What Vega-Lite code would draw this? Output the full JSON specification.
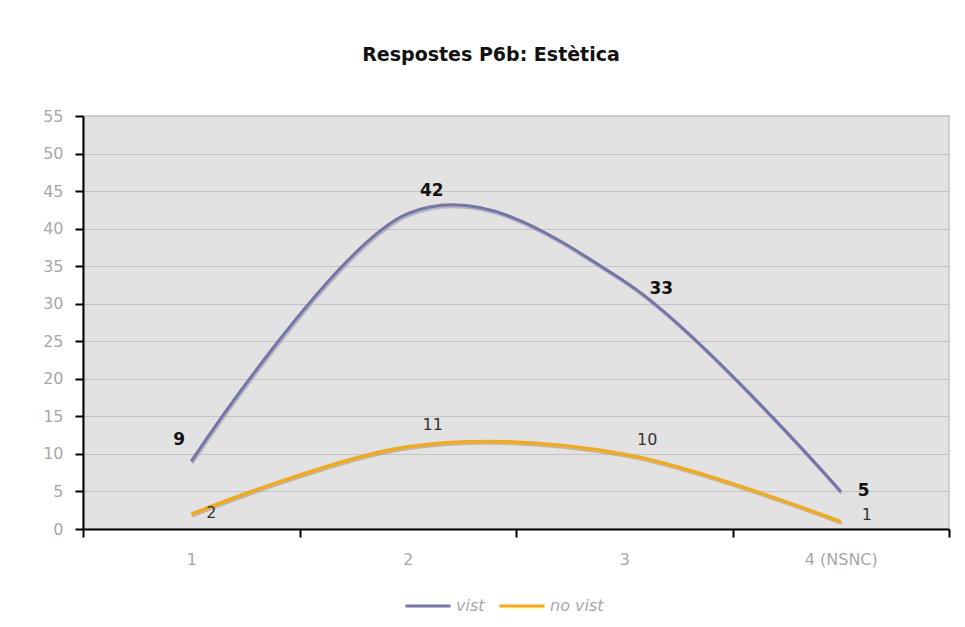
{
  "$schema": "https://vega.github.io/schema/vega-lite/v6.json",
  "width": 866,
  "height": 413,
  "autosize": "none",
  "padding": {"left": 83, "top": 116, "right": 16, "bottom": 98},
  "background": "white",
  "title": {
    "text": "Respostes P6b: Estètica",
    "font": "DejaVu Sans",
    "fontSize": 19,
    "fontWeight": "bold",
    "color": "#111111",
    "anchor": "middle",
    "dx": -25,
    "offset": 43
  },
  "data": {
    "values": [
      {"serie": "vist", "cat": "1", "valor": 9},
      {"serie": "vist", "cat": "2", "valor": 42},
      {"serie": "vist", "cat": "3", "valor": 33},
      {"serie": "vist", "cat": "4 (NSNC)", "valor": 5},
      {"serie": "no vist", "cat": "1", "valor": 2},
      {"serie": "no vist", "cat": "2", "valor": 11},
      {"serie": "no vist", "cat": "3", "valor": 10},
      {"serie": "no vist", "cat": "4 (NSNC)", "valor": 1}
    ]
  },
  "encoding": {
    "x": {
      "field": "cat",
      "type": "ordinal",
      "bandPosition": 0.5,
      "scale": {"type": "band", "domain": ["1", "2", "3", "4 (NSNC)"], "paddingInner": 0, "paddingOuter": 0},
      "axis": {
        "title": null,
        "tickBand": "extent",
        "labelAngle": 0,
        "labelPadding": 14,
        "tickSize": 8,
        "tickColor": "#000000",
        "domainColor": "#000000",
        "domainWidth": 2,
        "tickWidth": 2,
        "labelColor": "#a8a8a8",
        "labelFont": "DejaVu Sans",
        "labelFontSize": 16,
        "grid": false
      }
    },
    "y": {
      "field": "valor",
      "type": "quantitative",
      "scale": {"domain": [0, 55], "nice": false},
      "axis": {
        "title": null,
        "values": [0, 5, 10, 15, 20, 25, 30, 35, 40, 45, 50, 55],
        "tickSize": 8,
        "tickColor": "#000000",
        "tickWidth": 2,
        "domainColor": "#000000",
        "domainWidth": 2,
        "labelPadding": 12,
        "labelColor": "#a8a8a8",
        "labelFont": "DejaVu Sans",
        "labelFontSize": 16,
        "grid": true,
        "gridColor": "#c4c4c4",
        "gridWidth": 1
      }
    }
  },
  "layer": [
    {
      "transform": [{"filter": "datum.serie == 'vist'"}],
      "mark": {"type": "line", "interpolate": "cardinal", "strokeWidth": 3, "color": "#9a9a9a", "opacity": 0.6, "xOffset": 1, "yOffset": 2},
      "encoding": {"detail": {"field": "serie"}}
    },
    {
      "transform": [{"filter": "datum.serie == 'vist'"}],
      "mark": {"type": "line", "interpolate": "cardinal", "strokeWidth": 3},
      "encoding": {
        "color": {
          "field": "serie",
          "type": "nominal",
          "scale": {"domain": ["vist", "no vist"], "range": ["#7474ab", "#ffa800"]},
          "legend": {
            "title": null,
            "orient": "none",
            "direction": "horizontal",
            "legendX": 321,
            "legendY": 466,
            "symbolType": "stroke",
            "symbolSize": 2025,
            "symbolStrokeWidth": 3,
            "labelFont": "DejaVu Sans",
            "labelFontSize": 16,
            "labelFontStyle": "italic",
            "labelColor": "#a8a8a8",
            "labelOffset": 4,
            "columnPadding": 8
          }
        }
      }
    },
    {
      "transform": [{"filter": "datum.serie == 'no vist'"}],
      "mark": {"type": "line", "interpolate": "cardinal", "strokeWidth": 3, "color": "#9a9a9a", "opacity": 0.6, "xOffset": 1, "yOffset": 2},
      "encoding": {"detail": {"field": "serie"}}
    },
    {
      "transform": [{"filter": "datum.serie == 'no vist'"}],
      "mark": {"type": "line", "interpolate": "cardinal", "strokeWidth": 3},
      "encoding": {"color": {"field": "serie", "type": "nominal"}}
    },
    {
      "transform": [{"filter": "datum.serie == 'vist' && datum.cat == '1'"}],
      "mark": {"type": "text", "font": "DejaVu Sans", "fontSize": 17, "fontWeight": "bold", "color": "#111111", "dx": -12, "dy": -21},
      "encoding": {"text": {"field": "valor"}}
    },
    {
      "transform": [{"filter": "datum.serie == 'vist' && datum.cat == '2'"}],
      "mark": {"type": "text", "font": "DejaVu Sans", "fontSize": 17, "fontWeight": "bold", "color": "#111111", "dx": 24, "dy": -23},
      "encoding": {"text": {"field": "valor"}}
    },
    {
      "transform": [{"filter": "datum.serie == 'vist' && datum.cat == '3'"}],
      "mark": {"type": "text", "font": "DejaVu Sans", "fontSize": 17, "fontWeight": "bold", "color": "#111111", "dx": 37, "dy": 8},
      "encoding": {"text": {"field": "valor"}}
    },
    {
      "transform": [{"filter": "datum.serie == 'vist' && datum.cat == '4 (NSNC)'"}],
      "mark": {"type": "text", "font": "DejaVu Sans", "fontSize": 17, "fontWeight": "bold", "color": "#111111", "dx": 23, "dy": 0},
      "encoding": {"text": {"field": "valor"}}
    },
    {
      "transform": [{"filter": "datum.serie == 'no vist' && datum.cat == '1'"}],
      "mark": {"type": "text", "font": "DejaVu Sans", "fontSize": 16, "color": "#333333", "dx": 20, "dy": -1},
      "encoding": {"text": {"field": "valor"}}
    },
    {
      "transform": [{"filter": "datum.serie == 'no vist' && datum.cat == '2'"}],
      "mark": {"type": "text", "font": "DejaVu Sans", "fontSize": 16, "color": "#333333", "dx": 25, "dy": -21},
      "encoding": {"text": {"field": "valor"}}
    },
    {
      "transform": [{"filter": "datum.serie == 'no vist' && datum.cat == '3'"}],
      "mark": {"type": "text", "font": "DejaVu Sans", "fontSize": 16, "color": "#333333", "dx": 23, "dy": -14},
      "encoding": {"text": {"field": "valor"}}
    },
    {
      "transform": [{"filter": "datum.serie == 'no vist' && datum.cat == '4 (NSNC)'"}],
      "mark": {"type": "text", "font": "DejaVu Sans", "fontSize": 16, "color": "#333333", "dx": 26, "dy": -6},
      "encoding": {"text": {"field": "valor"}}
    }
  ],
  "config": {
    "view": {"fill": "#e2e2e2", "stroke": "#c4c4c4", "strokeWidth": 1.5}
  }
}
